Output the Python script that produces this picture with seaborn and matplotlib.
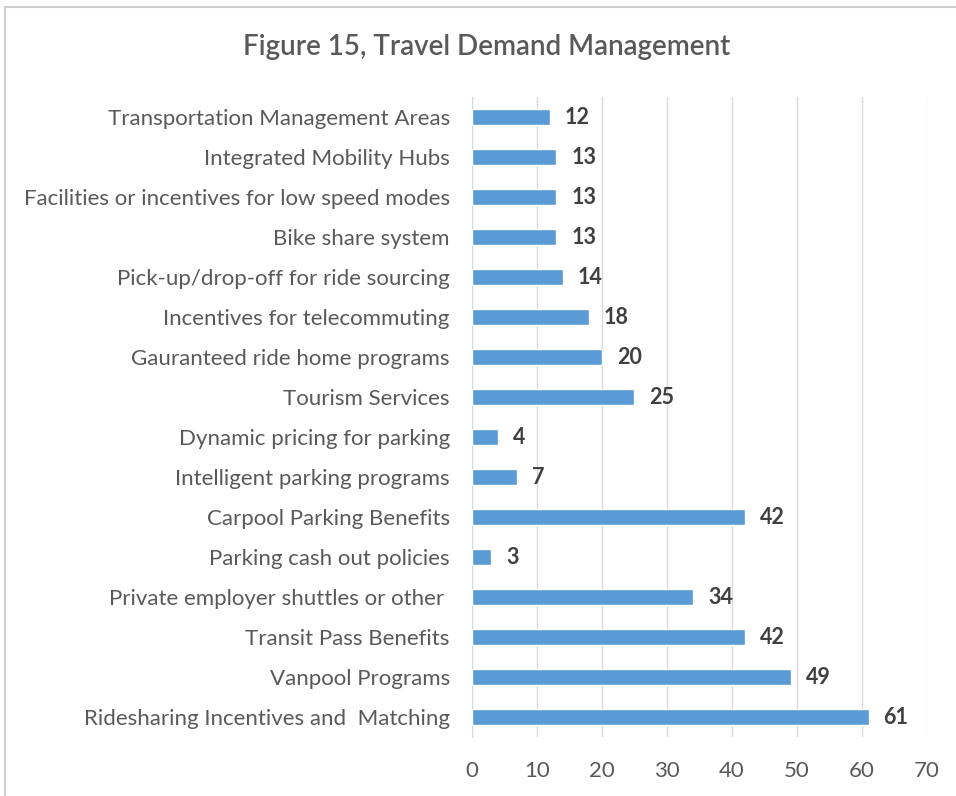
import pandas as pd
import numpy as np
import matplotlib.pyplot as plt
import seaborn as sns
from matplotlib.patches import Rectangle

# data, top to bottom as drawn
measures = ["Transportation Management Areas", "Integrated Mobility Hubs",
            "Facilities or incentives for low speed modes", "Bike share system",
            "Pick-up/drop-off for ride sourcing", "Incentives for telecommuting",
            "Gauranteed ride home programs", "Tourism Services",
            "Dynamic pricing for parking", "Intelligent parking programs",
            "Carpool Parking Benefits", "Parking cash out policies",
            "Private employer shuttles or other ", "Transit Pass Benefits",
            "Vanpool Programs", "Ridesharing Incentives and  Matching"]
counts = [12, 13, 13, 13, 14, 18, 20, 25, 4, 7, 42, 3, 34, 42, 49, 61]
xticks = [0, 10, 20, 30, 40, 50, 60, 70]

df = pd.DataFrame({"measure": measures, "count": counts})

sns.set_style("white")
plt.rcParams['font.family'] = ['Lato', 'DejaVu Sans']

fig = plt.figure(figsize=(9.56, 7.96), dpi=100)
ax = fig.add_axes([0.4937, 0.0741, 0.4760, 0.8040])

sns.barplot(data=df, x="count", y="measure", color="#5B9BD5", width=0.38,
            saturation=1, ax=ax, zorder=3)

ax.set_xlim(0, 70)
ax.set_xticks(xticks)
ax.xaxis.grid(True, color="#D9D9D9", linewidth=1, zorder=0)
ax.set_axisbelow(True)
for s in ["top", "right", "bottom"]:
    ax.spines[s].set_visible(False)
ax.spines["left"].set_color("#D9D9D9")
ax.set_xlabel("")
ax.set_ylabel("")
ax.tick_params(axis="both", length=0, labelsize=16, labelcolor="#595959")
ax.tick_params(axis="x", pad=17)
ax.tick_params(axis="y", pad=16)

for i, v in enumerate(counts):
    ax.text(v + 2.3, i, str(v), va="center", ha="left", fontsize=15.5,
            fontweight="bold", color="#404040")

fig.text(0.509, 0.941, "Figure 15, Travel Demand Management", ha="center",
         va="center", fontsize=20, fontweight="semibold", color="#595959")

fig.patches.append(Rectangle((0.005, -0.01), 1.1, 1.001, transform=fig.transFigure,
                             fill=False, edgecolor="#D0D0D0", linewidth=1.5))

fig.savefig("out.png", dpi=100)
